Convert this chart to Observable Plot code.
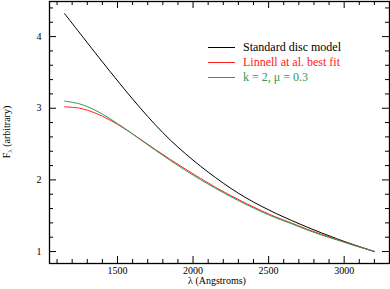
<!DOCTYPE html>
<html><head><meta charset="utf-8">
<script src="https://cdn.jsdelivr.net/npm/d3@7"></script>
<script src="https://cdn.jsdelivr.net/npm/@observablehq/plot@0.6"></script>
<style>
body{margin:0;background:#fff;}
#wrap{position:relative;width:390px;height:289px;font-family:"Liberation Serif","Times New Roman",Times,serif;}
#wrap svg text{font-family:"Liberation Serif","Times New Roman",Times,serif !important;}
.legend{position:absolute;left:208px;top:40px;font-size:12px;line-height:15px;}
.row{display:flex;align-items:center;height:15px;white-space:nowrap;}
.sw{width:27px;height:0;border-top:1px solid;margin-right:8px;}
</style></head><body><div id="wrap"></div>
<script>
const wavelength = [1150,1250,1350,1450,1550,1650,1750,1850,1950,2050,2150,2250,2350,2450,2550,2650,2750,2850,2950,3050,3200];
const standardDisc = [4.32,4.05,3.78,3.515,3.255,3.005,2.77,2.555,2.365,2.19,2.03,1.882,1.75,1.635,1.53,1.435,1.345,1.26,1.18,1.105,1.00];
const linnell = [3.02,3.00,2.935,2.835,2.71,2.57,2.425,2.285,2.15,2.02,1.895,1.78,1.672,1.572,1.48,1.40,1.315,1.24,1.17,1.10,1.00];
const kmu = [3.10,3.06,2.975,2.855,2.715,2.565,2.415,2.27,2.132,2.002,1.88,1.765,1.658,1.558,1.468,1.39,1.305,1.23,1.163,1.095,1.00];
const seriesNames = ["Standard disc model","Linnell at al. best fit","k = 2, \u03bc = 0.3"];
const seriesColors = ["#000000","#ff2020","#2e9a55"];
const xMajor = [1500,2000,2500,3000];
const xMinor = [1100,1200,1300,1400,1600,1700,1800,1900,2100,2200,2300,2400,2600,2700,2800,2900,3100,3200];
const yMajor = [1,2,3,4];
const yMinor = [1.2,1.4,1.6,1.8,2.2,2.4,2.6,2.8,3.2,3.4,3.6,3.8,4.2,4.4];

const rows = [];
[standardDisc, linnell, kmu].forEach((vals, s) => {
  vals.forEach((v, i) => rows.push({w: wavelength[i], f: v, s: seriesNames[s]}));
});

const W = 390, H = 289, mL = 49, mR = 1, mT = 1, mB = 26;
const iw = W - mL - mR, ih = H - mT - mB;
const serif = '"Liberation Serif", "Times New Roman", Times, serif';

const plot = Plot.plot({
  width: W, height: H,
  marginLeft: mL, marginRight: mR, marginTop: mT, marginBottom: mB,
  style: {fontFamily: serif, fontSize: "10px", background: "white", color: "black"},
  x: {domain: [1050, 3300]},
  y: {domain: [0.833, 4.49]},
  color: {domain: seriesNames, range: seriesColors},
  marks: [
    Plot.line(rows, {x: "w", y: "f", stroke: "s", curve: "catmull-rom", strokeWidth: 1}),
    Plot.tickX(xMajor, {x: d => d, insetTop: ih - 7, strokeWidth: 1}),
    Plot.tickX(xMinor, {x: d => d, insetTop: ih - 4, strokeWidth: 1}),
    Plot.tickX(xMajor, {x: d => d, insetBottom: ih - 7, strokeWidth: 1}),
    Plot.tickX(xMinor, {x: d => d, insetBottom: ih - 4, strokeWidth: 1}),
    Plot.tickY(yMajor, {y: d => d, insetRight: iw - 7, strokeWidth: 1}),
    Plot.tickY(yMinor, {y: d => d, insetRight: iw - 4, strokeWidth: 1}),
    Plot.tickY(yMajor, {y: d => d, insetLeft: iw - 7, strokeWidth: 1}),
    Plot.tickY(yMinor, {y: d => d, insetLeft: iw - 4, strokeWidth: 1}),
    Plot.axisX({ticks: xMajor, tickSize: 0, tickPadding: 3, label: null, fontSize: 10, tickFormat: d => String(d)}),
    Plot.axisY({ticks: yMajor, tickSize: 0, tickPadding: 8, label: null, fontSize: 10, tickFormat: d => String(d)}),
    Plot.frame({stroke: "black", strokeWidth: 1.3})
  ]
});

const svg = d3.select(plot);
svg.append("text")
  .attr("x", mL + iw / 2 - 2).attr("y", 284)
  .attr("text-anchor", "middle").attr("font-size", 10).attr("fill", "black")
  .text("\u03bb (Angstroms)");
const yl = svg.append("text")
  .attr("transform", `translate(10,${mT + ih / 2}) rotate(-90)`)
  .attr("text-anchor", "middle").attr("font-size", 10).attr("fill", "black");
yl.append("tspan").text("F");
yl.append("tspan").attr("font-size", 7).attr("dy", 2).text("\u03bb");
yl.append("tspan").attr("dy", -2).text(" (arbitrary)");

const wrap = document.getElementById("wrap");
wrap.appendChild(plot);
const leg = document.createElement("div");
leg.className = "legend";
seriesNames.forEach((n, i) => {
  const r = document.createElement("div");
  r.className = "row";
  r.style.color = seriesColors[i];
  const sw = document.createElement("span");
  sw.className = "sw";
  sw.style.borderTopColor = seriesColors[i];
  const t = document.createElement("span");
  t.textContent = n;
  r.appendChild(sw); r.appendChild(t);
  leg.appendChild(r);
});
wrap.appendChild(leg);
</script>
</body></html>
